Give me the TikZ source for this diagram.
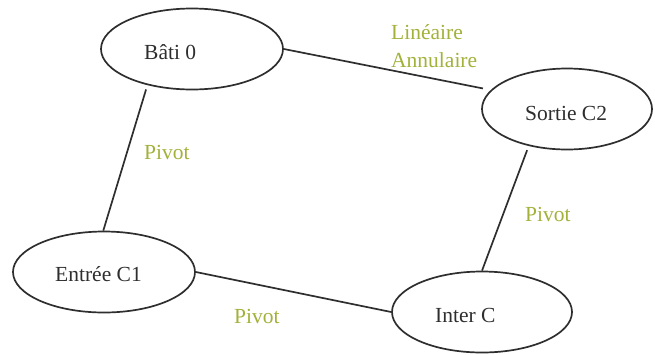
\documentclass[tikz,border=0pt]{standalone}
\usepackage{fontspec}
\setmainfont{Liberation Serif}
\usetikzlibrary{shapes.geometric}
\definecolor{ink}{HTML}{2E2E2E}
\definecolor{olive}{RGB}{163,177,58}
\tikzset{
  part/.style={ellipse, draw=ink, line width=1.7pt, inner sep=0pt, minimum height=81pt},
  parttext/.style={anchor=base west, inner sep=0pt, text=ink, font=\fontsize{21.5}{26}\selectfont},
  jointtext/.style={anchor=base west, inner sep=0pt, text=olive, font=\fontsize{21.5}{26}\selectfont},
  link/.style={draw=ink, line width=1.7pt}
}
\begin{document}
\begin{tikzpicture}[x=1pt,y=-1pt]
\useasboundingbox (0,0) rectangle (655,354);
\node[part, minimum width=182pt] (bati) at (192,49) {};
\node[part, minimum width=170pt] (sortie) at (567,109) {};
\node[part, minimum width=182pt] (entree) at (104,272) {};
\node[part, minimum width=180pt] (inter) at (482,312) {};
\node[parttext] (batit) at (144,59) {Bâti 0};
\node[parttext] (sortiet) at (525,120) {Sortie C2};
\node[parttext] (entreet) at (55,281) {Entrée C1};
\node[parttext] (intert) at (435,322) {Inter C};
\draw[link, shorten >=8pt] (bati.east) -- (sortie.166);
\draw[link, shorten <=4.5pt] (bati.219) -- (entree.91);
\draw[link, shorten <=4.4pt] (sortie.224.5) -- (inter.north);
\draw[link] (entree.east) -- (inter.west);
\node[jointtext] (j1) at (391,39) {Linéaire};
\node[jointtext] (j1b) at (391,67) {Annulaire};
\node[jointtext] (j2) at (144,159) {Pivot};
\node[jointtext] (j3) at (525,221) {Pivot};
\node[jointtext] (j4) at (234,323) {Pivot};
\end{tikzpicture}
\end{document}
